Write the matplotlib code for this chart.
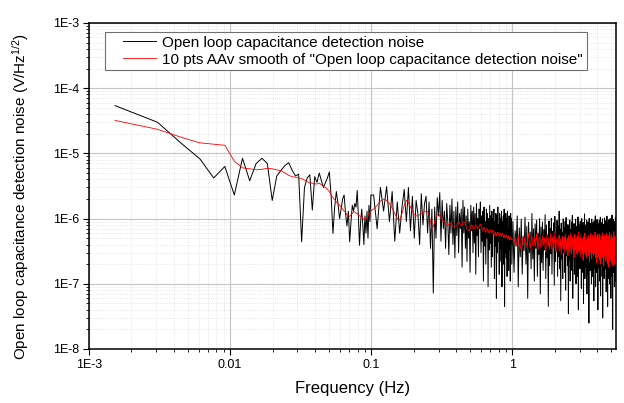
import numpy as np
import matplotlib
matplotlib.use("Agg")
import matplotlib.pyplot as plt
from matplotlib.ticker import LogLocator, NullFormatter
from matplotlib.legend_handler import HandlerLine2D

plt.rcParams['font.family'] = ['Liberation Sans', 'DejaVu Sans']
plt.rcParams['mathtext.fontset'] = 'custom'
plt.rcParams['mathtext.rm'] = 'Liberation Sans'
plt.rcParams['mathtext.it'] = 'Liberation Sans:italic'

# frequency resolution of the spectrum (Hz) and the bins
df = 0.00153
bins_lo = np.arange(1, 66)            # every bin up to ~0.1 Hz
bins_mid = np.arange(68, 649, 4)      # 0.1 - 1 Hz
bins_hi = np.arange(660, 3541, 12)    # 1 - 5.4 Hz

# open loop noise, nV/sqrt(Hz)
noise_lo = [54000, 30000, 13800, 8200, 4200, 6300, 2300, 8400, 3800, 7000,
            8400, 7000, 1900, 4500, 5500, 6500, 7200, 5500, 4500, 4800,
            440, 3000, 4200, 4700, 1350, 4400, 3600, 5000, 3800, 3000,
            3600, 4200, 5200, 2200, 590, 1500, 2600, 1700, 1000, 1400,
            2000, 2300, 1200, 770, 1300, 440, 900, 1600, 1300, 1700,
            1500, 2700, 1100, 390, 900, 1400, 800, 400, 1100, 600,
            1300, 500, 1600, 900, 2300]
noise_mid = [2300, 700, 3000, 1300, 3100, 900, 2600, 450, 1800, 600,
             1500, 2800, 900, 3000, 650, 2200, 500, 1900, 1200, 400,
             2400, 800, 1700, 2200, 600, 1800, 350, 1400, 72, 1500,
             500, 2100, 1100, 2500, 450, 1900, 700, 1300, 350, 1700,
             900, 280, 1600, 600, 2000, 400, 1300, 250, 1500, 550,
             1800, 300, 1200, 700, 1400, 180, 1900, 600, 1500, 350,
             1100, 220, 1400, 500, 900, 150, 1600, 650, 1300, 300,
             1500, 420, 1200, 140, 1700, 550, 1000, 260, 1400, 700,
             1800, 300, 1100, 450, 1300, 110, 1500, 380, 900, 200,
             1400, 500, 1200, 90, 1000, 330, 1600, 420, 1100, 180,
             1300, 260, 1000, 600, 1400, 120, 900, 380, 1200, 60,
             1100, 300, 1500, 450, 800, 140, 1200, 350, 1000, 220,
             1300, 90, 900, 500, 1100, 200, 1400, 45, 800, 300,
             1200, 250, 1000, 130, 1300, 400, 700, 160, 1100, 340,
             900, 110, 1200, 420, 1000, 200]
noise_hi = [900, 150, 650, 380, 1100, 90, 720, 260, 980, 140, 540, 320,
            1050, 200, 760, 60, 880, 300, 620, 170, 1200, 240, 700, 110,
            830, 350, 950, 130, 600, 280, 1000, 70, 740, 210, 890, 160,
            680, 330, 1150, 120, 800, 250, 560, 45, 920, 190, 710, 290,
            1000, 140, 640, 370, 860, 95, 1080, 220, 590, 310, 940, 130,
            770, 260, 1300, 170, 690, 55, 850, 240, 620, 120, 990, 300,
            720, 150, 900, 80, 1040, 270, 580, 190, 810, 35, 760, 230,
            950, 110, 670, 340, 880, 160, 1120, 60, 600, 250, 840, 140,
            700, 290, 980, 100, 750, 200, 560, 130, 1060, 40, 820, 270,
            640, 170, 910, 330, 690, 85, 1000, 210, 580, 150, 870, 50,
            760, 240, 1180, 120, 620, 300, 800, 180, 950, 70, 680, 260,
            890, 140, 730, 25, 1010, 230, 570, 160, 840, 320, 660, 100,
            980, 200, 700, 130, 860, 280, 610, 55, 920, 170, 750, 240,
            1100, 90, 640, 310, 800, 150, 970, 210, 590, 40, 830, 180,
            720, 260, 940, 110, 680, 220, 1050, 65, 760, 190, 600, 290,
            870, 130, 990, 30, 710, 250, 820, 160, 650, 120, 1020, 210,
            740, 170, 580, 280, 930, 75, 790, 230, 1090, 140, 620, 45,
            850, 200, 700, 120, 960, 300, 640, 100, 810, 180, 1000, 250,
            690, 60, 880, 160, 750, 220, 1130, 130, 600, 20, 840, 270,
            980, 150, 720, 240, 660, 90, 900, 190, 780, 110, 1050, 230,
            700]

# 10 pts adjacent average, nV/sqrt(Hz)
smooth_lo = [32000, 23400, 17400, 14500, 13800, 13300, 7600, 6000, 5800, 5600,
             5700, 5900, 5800, 5600, 5400, 5000, 4600, 4400, 4300, 4200,
             4100, 3900, 3700, 3500, 3500, 3400, 3400, 3500, 3300, 3100,
             3000, 2800, 2600, 2300, 2100, 1950, 1800, 1700, 1600, 1500,
             1400, 1300, 1250, 1150, 1100, 1080, 1150, 1200, 1250, 1270,
             1220, 1180, 1150, 1100, 1080, 1050, 1000, 980, 1000, 1000,
             1050, 1100, 1180, 1250, 1320]
smooth_mid = [1400, 1600, 1850, 2000, 1900, 1700, 1450, 1200, 1000, 950,
              1200, 1600, 1900, 1750, 1500, 1300, 1150, 1100, 1100, 1150,
              1200, 1250, 1300, 1270, 1270, 1150, 900, 700, 750, 900,
              1050, 1150, 1200, 1100, 1000, 950, 900, 900, 850, 800,
              780, 820, 870, 850, 800, 760, 740, 750, 760, 800,
              850, 900, 870, 820, 780, 800, 860, 900, 880, 820,
              760, 700, 680, 660, 650, 700, 760, 800, 780, 720,
              680, 720, 760, 800, 780, 740, 700, 720, 760, 800,
              820, 780, 720, 680, 650, 690, 740, 700, 650, 620,
              640, 680, 700, 660, 620, 600, 640, 680, 650, 620,
              600, 620, 660, 640, 600, 560, 580, 620, 600, 570,
              560, 590, 620, 600, 560, 540, 570, 600, 580, 550,
              530, 560, 590, 570, 540, 510, 530, 560, 540, 510,
              520, 550, 560, 530, 500, 480, 510, 540, 520, 490,
              470, 500, 520, 500, 480, 470]
smooth_hi = [480, 420, 520, 380, 450, 560, 400, 340, 470, 510, 390, 440,
             530, 360, 420, 480, 600, 410, 350, 460, 540, 380, 430, 500,
             370, 450, 580, 420, 330, 490, 520, 400, 360, 470, 550, 390,
             440, 510, 350, 300, 460, 570, 410, 380, 500, 340, 420, 600,
             390, 330, 480, 530, 360, 440, 610, 370, 310, 450, 500, 410,
             350, 470, 560, 320, 400, 490, 280, 430, 540, 380, 340, 460,
             520, 300, 410, 580, 360, 330, 470, 500, 270, 420, 550, 390,
             310, 440, 600, 350, 290, 480, 520, 380, 340, 460, 250, 410,
             570, 330, 370, 490, 300, 430, 540, 280, 400, 620, 350, 310,
             450, 510, 260, 380, 560, 330, 420, 290, 490, 370, 230, 440,
             530, 310, 360, 600, 280, 400, 470, 340, 250, 510, 390, 300,
             460, 550, 270, 350, 430, 220, 480, 380, 320, 590, 300, 410,
             240, 490, 360, 300, 560, 330, 270, 440, 520, 290, 380, 620,
             310, 250, 470, 400, 210, 530, 350, 280, 450, 580, 260, 340,
             500, 300, 410, 230, 570, 360, 290, 460, 200, 420, 540, 310,
             380, 260, 490, 600, 280, 350, 440, 190, 520, 330, 270, 470,
             560, 240, 360, 410, 220, 500, 300, 590, 270, 380, 450, 200,
             330, 540, 290, 420, 180, 480, 360, 250, 610, 310, 400, 230,
             470, 280, 350, 560, 210, 390, 500, 260, 330, 440, 190, 520,
             300, 410, 630, 240, 370, 460, 200, 540, 320, 280, 490, 350,
             400]

labels = ['Open loop capacitance detection noise',
          '10 pts AAv smooth of "Open loop capacitance detection noise"']
xtick_vals = [1e-3, 1e-2, 1e-1, 1]
xtick_labels = ['1E-3', '0.01', '0.1', '1']
ytick_vals = [1e-8, 1e-7, 1e-6, 1e-5, 1e-4, 1e-3]
ytick_labels = ['1E-8', '1E-7', '1E-6', '1E-5', '1E-4', '1E-3']

freq = np.concatenate([bins_lo, bins_mid, bins_hi]) * df
noise = np.array(noise_lo + noise_mid + noise_hi) * 1e-9
smooth = np.array(smooth_lo + smooth_mid + smooth_hi) * 1e-9

fig = plt.figure(figsize=(6.24, 4.03), dpi=100)
ax = fig.add_axes([0.1426, 0.134, 0.8446, 0.809])

ax.plot(freq, noise, color='black', lw=0.7, label=labels[0])
ax.plot(freq, smooth, color='#ff0000', lw=0.6, label=labels[1])

ax.set_xscale('log')
ax.set_yscale('log')
ax.set_xlim(1e-3, 5.43)
ax.set_ylim(1e-8, 1e-3)

ax.set_xticks(xtick_vals)
ax.set_xticklabels(xtick_labels)
ax.set_yticks(ytick_vals)
ax.set_yticklabels(ytick_labels)
ax.xaxis.set_minor_locator(LogLocator(base=10, subs=np.arange(2, 10), numticks=20))
ax.yaxis.set_minor_locator(LogLocator(base=10, subs=np.arange(2, 10), numticks=20))
ax.xaxis.set_minor_formatter(NullFormatter())
ax.yaxis.set_minor_formatter(NullFormatter())

ax.tick_params(which='major', direction='out', length=4, width=0.8, labelsize=9, pad=3)
ax.tick_params(which='minor', direction='out', length=2.5, width=0.6)
ax.tick_params(top=False, right=False, which='both')

ax.grid(which='major', color='#c4c4c4', lw=0.8, ls='-')
ax.grid(which='minor', color='#dedede', lw=0.6, ls=':')
ax.set_axisbelow(True)
for s in ax.spines.values():
    s.set_linewidth(1.1)

ax.set_xlabel('Frequency (Hz)', fontsize=12)
ax.set_ylabel('Open loop capacitance detection noise (V/Hz$^{1/2}$)', fontsize=11)
ax.xaxis.set_label_coords(0.5, -0.098)
ax.yaxis.set_label_coords(-0.11, 0.468)

leg = ax.legend(loc='upper left', bbox_to_anchor=(0.0304, 0.973), borderaxespad=0,
                fontsize=11, fancybox=False, framealpha=1, edgecolor='#707070',
                borderpad=0.25, labelspacing=0.2, handlelength=3.1, handletextpad=0.4,
                handler_map={plt.Line2D: HandlerLine2D(xpad=0.9)})
leg.get_frame().set_linewidth(0.8)

fig.savefig('out.png', dpi=100)
